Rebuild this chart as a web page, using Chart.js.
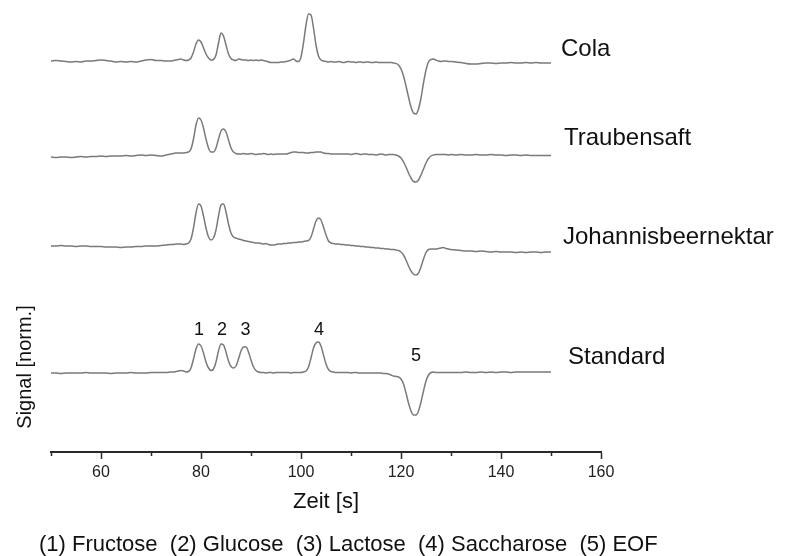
<!DOCTYPE html>
<html>
<head>
<meta charset="utf-8">
<script src="https://cdn.jsdelivr.net/npm/chart.js@4.4.1/dist/chart.umd.min.js"></script>
<style>
  html, body { margin: 0; padding: 0; background: #fff; }
  #wrap { width: 785px; height: 556px; }
</style>
</head>
<body>
<div id="wrap"><canvas id="c" width="785" height="556"></canvas></div>
<script>
// ---------- DATA ----------
// Migration time [s]
const times = [
  50,51,52,53,54,55,56,57,58,59,60,61,62,63,64,65,66,67,68,69,70,71,72,73,74,
  74.5,75,75.5,76,76.5,77,77.5,78,78.5,79,
  79.5,80,80.5,81,81.5,82,82.5,83,83.5,84,
  84.5,85,85.5,86,86.5,87,87.5,88,88.5,89,
  89.5,90,90.5,91,91.5,92,92.5,93,93.5,94,
  94.5,95,95.5,96,96.5,97,97.5,98,98.5,99,
  99.5,100,100.5,101,101.5,102,102.5,103,103.5,104,
  104.5,105,105.5,106,106.5,107,107.5,108,108.5,109,
  109.5,110,110.5,111,111.5,112,112.5,113,113.5,114,
  114.5,115,115.5,116,116.5,117,117.5,118,118.5,119,
  119.5,120,120.5,121,121.5,122,122.5,123,123.5,124,
  124.5,125,125.5,126,126.5,127,127.5,128,128.5,129,
  129.5,130,
  131,132,133,134,135,136,137,138,139,140,141,142,143,144,145,146,147,148,149,150
];

// Signal of each electropherogram (relative to its own baseline, arbitrary units)
const cola = [
  0,0.5,0,-0.5,-1,-0.5,-1,0,0,0.5,1,0.5,0,-1,-0.5,-1,-0.5,-1,0,1,1.5,0.5,0.5,0,0,
  0.5,1,1.5,2,1,0.5,1,3,9,17,
  21,19,13,7,3,1,1.5,6,18,28,
  25,16,7,2.5,1,0.5,2,1.5,1,1,
  0.5,1,0.5,1,0.5,1,0.5,0,-1,-1.5,
  -1.5,-1.5,-1.5,-1,-1,-0.5,0,1,2,0,
  -0.5,4,18,36,47,46,33,16,5,1,
  0,-0.5,-1,-0.5,-1,-1,-0.5,-1,-1.5,-1,
  -0.5,-1,-1,-1.5,-1,-1,-1.5,-1,-1,-1.5,
  -1.5,-1,-1.5,-1.5,-1.5,-1.5,-1.5,-1.5,-2,-2.5,
  -4,-8,-15,-25,-36,-46,-52,-53,-48,-37,
  -22,-9,-1,1.5,2,1,0,-0.5,0,0,
  -0.5,-0.5,
  -1,-1.5,-2.5,-3,-3,-2.5,-2,-2,-2.5,-2,-2,-1.5,-2,-2,-1.5,-2,-1.5,-2,-2,-2
];
const traubensaft = [
  0,-0.5,0,0,-0.5,0,0.5,0,0.5,0.5,1,0.5,1,1,1,1.5,1,1.5,2,1.5,2,1.5,1,2,3,
  3.5,4,4,4,4,4.5,5,8,18,32,
  39,37,29,18,9,5,5,9,18,26,
  28,25,17,9,5,3.5,3,3,3.5,3,
  3,3.5,3,2.5,3,3,3.5,3,2.5,3,
  2.5,3,3,3,3,3,3.5,4.5,5,5,
  4.5,4.5,4.5,4,4,4.5,4.5,5,5,5,
  4,3.5,3.5,3,3,3,3,3,3,3,
  3,2.5,3,3.5,3,2.5,3,3,2.5,2.5,
  2.5,2,2.5,3,2.5,2,2.5,2.5,2.5,2,
  1,-1,-5,-10,-16,-21,-24.5,-25,-23,-18,
  -12,-6,-1.5,1,2,2.5,2.5,2.5,2.5,2.5,
  2,2.5,
  2,2.5,2,2,2.5,2,2,2.5,2,2,1.5,2,2,1.5,2,1.5,1.5,1.5,1.5,1.5
];
const johannisbeernektar = [
  0,0,0.5,0,0,-0.5,0,0,-0.5,-0.5,-0.5,-1,-1,-1,-1.5,-1,-1,-0.5,-0.5,0,0,0,0.5,1,1.5,
  1.5,2,2,2,1.5,2,3,7,18,33,
  42,40,30,18,9,6,8,16,30,41,
  42,34,22,13,9,8,7,6.5,5.5,5,
  4.5,4,3.5,3,3,2.5,2,2.5,1.5,1,
  1,1.5,2,2,2.5,2.5,3,3,3.5,3.5,
  4,4,4.5,5,5.5,9,17,25,28,26,
  19,11,5,3,2.5,2,2,1.5,1.5,1,
  1,0.5,0.5,0,0,-0.5,-0.5,-1,-1,-1.5,
  -1.5,-2,-2,-2.5,-2.5,-3,-3,-3.5,-3.5,-4,
  -4.5,-6,-9,-14,-20,-25,-28,-29,-27,-21,
  -13,-6.5,-3.5,-3,-3,-3,-2.5,-2,-1.5,-2.5,
  -3,-3.5,
  -4,-4.5,-5,-5,-5.5,-5,-5.5,-6,-5.5,-6,-6,-6,-6.5,-6,-6.5,-6,-6,-6.5,-6,-6
];
const standard = [
  0,0,-0.5,0,0,0,0,0.5,0,0,0,0,-0.5,0,0,0,0.5,0,0,0,0.5,0.5,0.5,0.5,1,
  1,1.5,2,2.5,2,1,1.5,5,14,24,
  29,27,20,11,5,2.5,4,11,22,29,
  28,21,12,6.5,5,7,14,22,26,26,
  21,13,6,2.5,1,0.5,0.5,0,0.5,0.5,
  0,0.5,0.5,0.5,0.5,0.5,0.5,0,0.5,0.5,
  0.5,0.5,1,2,6,15,25,30,31,27,
  18,9,3.5,1.5,1,0.5,0.5,0.5,0.5,0.5,
  0.5,0,0.5,0.5,0,0,0,0,0,0,
  0,0,0,0,-0.5,-0.5,-1,-2,-3,-3.5,
  -4,-6,-11,-20,-30,-38,-42,-42,-38,-29,
  -18,-8,-2,0.5,1,0.5,0.5,0.5,0.5,0.5,
  0.5,0.5,
  0.5,0.5,1,0.5,0.5,1,0.5,1,0.5,1,1,0.5,1,1,1,1,1,1,1,1
];

const traceNames   = ['Cola', 'Traubensaft', 'Johannisbeernektar', 'Standard'];
const traceOffsets = [391, 295, 206, 79];          // vertical stacking of traces
const traceLabelTimes  = [152, 152.6, 152.4, 153.4];
const traceLabelLevels = [403, 314, 215, 95];

const peakLabels = ['1', '2', '3', '4', '5'];
const peakTimes  = [79.6, 84.2, 88.9, 103.6, 123];
const peakLabelLevels = [122, 122, 122, 122, 96];

const xTickLabels = [60, 80, 100, 120, 140, 160];
const footnote = '(1) Fructose  (2) Glucose  (3) Lactose  (4) Saccharose  (5) EOF';
const xTitle = 'Zeit [s]';
const yTitle = 'Signal [norm.]';

// ---------- CHART ----------
const FONT = '"Liberation Sans", Arial, Helvetica, sans-serif';
const series = [cola, traubensaft, johannisbeernektar, standard];
series.forEach((s, i) => {
  if (s.length !== times.length) console.error(traceNames[i] + ' length ' + s.length + ' vs ' + times.length);
});

const datasets = series.map((s, i) => ({
  label: traceNames[i],
  data: times.map((t, k) => ({ x: t, y: traceOffsets[i] + s[k] })),
  borderColor: '#7a7a7a',
  borderWidth: 1.5,
  pointRadius: 0,
  fill: false,
  cubicInterpolationMode: 'monotone',
}));

const annotations = {
  id: 'annotations',
  afterDraw(chart) {
    const { ctx, scales: { x, y }, chartArea } = chart;
    ctx.save();
    ctx.fillStyle = '#111';
    ctx.textBaseline = 'middle';

    // trace names
    ctx.font = '24px ' + FONT;
    ctx.textAlign = 'left';
    traceNames.forEach((n, i) => {
      ctx.fillText(n, x.getPixelForValue(traceLabelTimes[i]), y.getPixelForValue(traceLabelLevels[i]));
    });

    // peak numbers
    ctx.font = '18px ' + FONT;
    ctx.textAlign = 'center';
    peakLabels.forEach((p, i) => {
      ctx.fillText(p, x.getPixelForValue(peakTimes[i]), y.getPixelForValue(peakLabelLevels[i]));
    });

    // y title
    ctx.save();
    ctx.font = '20px ' + FONT;
    ctx.translate(chartArea.left - 26, y.getPixelForValue(85));
    ctx.rotate(-Math.PI / 2);
    ctx.textAlign = 'center';
    ctx.fillText(yTitle, 0, 0);
    ctx.restore();

    // footnote
    ctx.font = '22px ' + FONT;
    ctx.textAlign = 'left';
    ctx.fillText(footnote, chartArea.left - 12, chart.height - 11);
    ctx.restore();
  }
};

new Chart(document.getElementById('c'), {
  type: 'line',
  data: { datasets },
  options: {
    responsive: false,
    animation: false,
    events: [],
    layout: { padding: { left: 51, right: 184, top: 0, bottom: 0 } },
    plugins: { legend: { display: false }, tooltip: { enabled: false } },
    scales: {
      x: {
        type: 'linear',
        min: 50, max: 160,
        afterFit: (scale) => { scale.height = 104; },
        border: { display: true, color: '#2a2a2a', width: 2 },
        grid: {
          display: true,
          drawOnChartArea: false,
          drawTicks: true,
          tickLength: 7,
          tickWidth: 1.5,
          tickColor: '#2a2a2a',
          tickBorderDash: (ctx) => (ctx.tick && xTickLabels.includes(ctx.tick.value)) ? [] : [3, 40],
        },
        ticks: {
          stepSize: 10,
          autoSkip: false,
          maxRotation: 0,
          padding: 4,
          color: '#222',
          font: { family: FONT, size: 16 },
          callback: (v) => xTickLabels.includes(v) ? String(v) : '',
        },
        title: {
          display: true,
          text: xTitle,
          color: '#111',
          font: { family: FONT, size: 22 },
          padding: { top: 4, bottom: 41 },
        },
      },
      y: {
        display: false,
        min: 0, max: 452,
      },
    },
  },
  plugins: [annotations],
});
</script>
</body>
</html>
